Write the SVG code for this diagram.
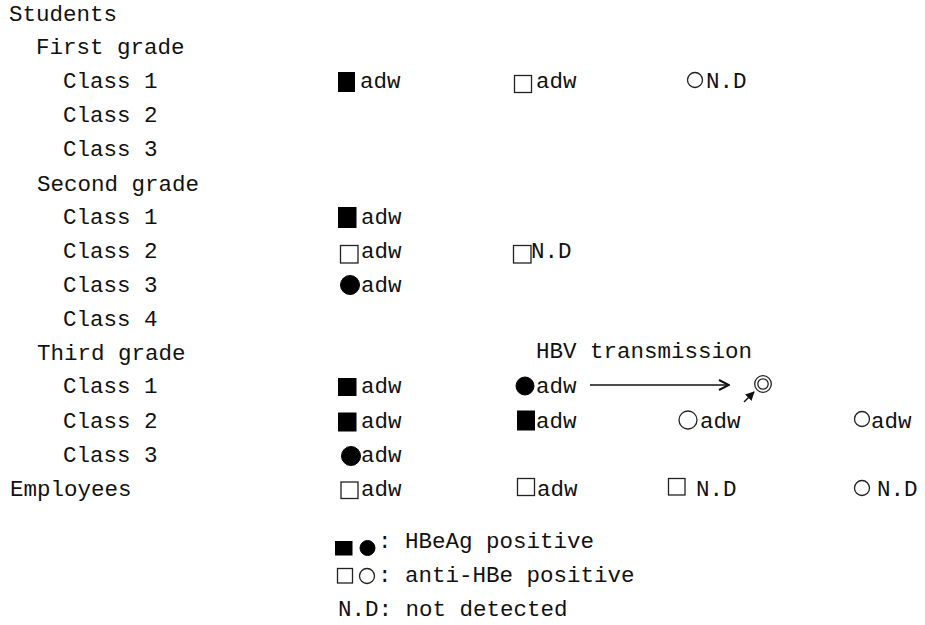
<svg xmlns="http://www.w3.org/2000/svg" width="925" height="625" viewBox="0 0 925 625">
  <defs>
    <style>
      text { font-family: "Liberation Mono", "Courier New", monospace; font-size: 22.5px; fill: #111; }
      .fill { fill: #000; stroke: #000; stroke-width: 1; }
      .open { fill: none; stroke: #222; stroke-width: 1.3; }
      .line { fill: none; stroke: #111; stroke-width: 1.5; }
    </style>
    <marker id="vhead" viewBox="0 0 12 12" refX="11" refY="6" markerWidth="12" markerHeight="12" markerUnits="userSpaceOnUse" orient="auto">
      <path d="M1,1 L11,6 L1,11" fill="none" stroke="#111" stroke-width="2"/>
    </marker>
    <marker id="shead" viewBox="0 0 10 10" refX="9" refY="5" markerWidth="9" markerHeight="9" markerUnits="userSpaceOnUse" orient="auto">
      <path d="M0,0 L10,5 L0,10 Z" fill="#111"/>
    </marker>
  </defs>
  <rect width="925" height="625" fill="#fff"/>

  <!-- row labels -->
  <g id="labels">
    <text x="9" y="21">Students</text>
    <text x="36" y="54">First grade</text>
    <text x="63" y="88">Class 1</text>
    <text x="63" y="122">Class 2</text>
    <text x="63" y="156">Class 3</text>
    <text x="37" y="191">Second grade</text>
    <text x="63" y="224">Class 1</text>
    <text x="63" y="258">Class 2</text>
    <text x="63" y="292">Class 3</text>
    <text x="63" y="326">Class 4</text>
    <text x="37" y="360">Third grade</text>
    <text x="63" y="393">Class 1</text>
    <text x="63" y="428">Class 2</text>
    <text x="63" y="462">Class 3</text>
    <text x="10" y="496">Employees</text>
  </g>

  <!-- first grade, class 1 -->
  <g id="g1c1">
    <rect class="fill" x="338.5" y="72.5" width="16" height="19"/>
    <text x="360" y="88">adw</text>
    <rect class="open" x="514.5" y="75.5" width="17" height="17"/>
    <text x="536" y="88">adw</text>
    <circle class="open" cx="695" cy="80" r="7.5"/>
    <text x="706" y="88">N.D</text>
  </g>

  <!-- second grade -->
  <g id="g2c1">
    <rect class="fill" x="338.5" y="207.5" width="17.5" height="20"/>
    <text x="361" y="224">adw</text>
  </g>
  <g id="g2c2">
    <rect class="open" x="340.5" y="245.5" width="17.5" height="17.5"/>
    <text x="361" y="258">adw</text>
    <rect class="open" x="513.5" y="245.5" width="17.5" height="17.5"/>
    <text x="531" y="258">N.D</text>
  </g>
  <g id="g2c3">
    <circle class="fill" cx="350" cy="285" r="9.5"/>
    <text x="361" y="292">adw</text>
  </g>

  <!-- third grade -->
  <g id="title">
    <text x="536" y="358">HBV transmission</text>
  </g>
  <g id="g3c1">
    <rect class="fill" x="338.5" y="378.5" width="17.5" height="17"/>
    <text x="361" y="393">adw</text>
    <circle class="fill" cx="525" cy="386" r="9"/>
    <text x="536" y="393">adw</text>
  </g>
  <g id="recipient">
    <circle class="open" cx="763" cy="384" r="8.3"/>
    <circle class="open" cx="763" cy="384" r="5.2"/>
  </g>
  <g id="g3c2">
    <rect class="fill" x="338.5" y="413" width="17.5" height="18"/>
    <text x="361" y="428">adw</text>
    <rect class="fill" x="517.5" y="411" width="17" height="19"/>
    <text x="536" y="428">adw</text>
    <circle class="open" cx="688" cy="420" r="9"/>
    <text x="700" y="428">adw</text>
    <circle class="open" cx="862" cy="419" r="7.5"/>
    <text x="871" y="428">adw</text>
  </g>
  <g id="g3c3">
    <circle class="fill" cx="351" cy="456" r="9.5"/>
    <text x="361" y="462">adw</text>
  </g>

  <!-- employees -->
  <g id="emp">
    <rect class="open" x="341" y="482" width="17" height="16.5"/>
    <text x="361" y="496">adw</text>
    <rect class="open" x="517.5" y="478.5" width="17" height="17"/>
    <text x="537" y="496">adw</text>
    <rect class="open" x="668.5" y="478.5" width="16.5" height="16.5"/>
    <text x="696" y="496">N.D</text>
    <circle class="open" cx="862" cy="488" r="7.5"/>
    <text x="877" y="496">N.D</text>
  </g>

  <!-- transmission arrows -->
  <g id="connectors">
    <line class="line" x1="590" y1="385" x2="729" y2="385" marker-end="url(#vhead)"/>
    <line class="line" x1="744" y1="402" x2="754" y2="392" marker-end="url(#shead)"/>
  </g>

  <!-- key -->
  <g id="legend">
    <rect class="fill" x="335.5" y="541.5" width="16.5" height="13.5"/>
    <circle class="fill" cx="367.5" cy="548" r="7.5"/>
    <text x="378" y="548">: HBeAg positive</text>
    <rect class="open" x="337.5" y="568.5" width="15" height="14.5"/>
    <circle class="open" cx="367" cy="576" r="7.5"/>
    <text x="378" y="582">: anti-HBe positive</text>
    <text x="338" y="616">N.D: not detected</text>
  </g>
</svg>
